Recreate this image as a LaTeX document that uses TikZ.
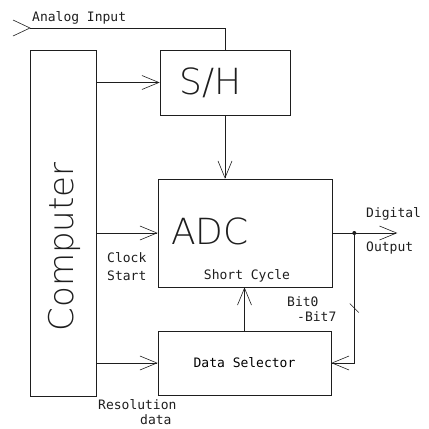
\documentclass[tikz,border=0pt]{standalone}
\usepackage{fontspec}
\setmonofont{DejaVu Sans Mono}
\newfontfamily\thinsans{DejaVu Sans ExtraLight}
\usepackage{tikz}
\usetikzlibrary{arrows.meta}
\definecolor{linecolor}{HTML}{1E1E1E}
\tikzset{
  >={Straight Barb[length=17pt,width=14pt]},
  block/.style={
    draw=linecolor,
    line width=0.6pt,
    inner sep=0pt
  },
  wire/.style={
    draw=linecolor,
    line width=0.6pt
  },
  signal/.style={
    wire,
    ->
  },
  big label/.style={
    font=\thinsans\fontsize{36}{40}\selectfont,
    text=linecolor,
    inner sep=0pt
  },
  small label/.style={
    font=\ttfamily\fontsize{13}{18}\selectfont,
    text=linecolor,
    align=left,
    inner sep=0pt
  }
}

\begin{document}
\begin{tikzpicture}[x=1pt,y=-1pt]
  \useasboundingbox (0,0) rectangle (429,429);

  \node[block,minimum width=66pt,minimum height=346pt] (comp) at (63,223) {};
  \node[block,minimum width=130pt,minimum height=65pt] (sh) at (225,82.5) {};
  \node[block,minimum width=174pt,minimum height=108pt] (adc) at (245,233) {};
  \node[block,minimum width=173pt,minimum height=64pt] (dsel) at (244.5,363)
    {\ttfamily\fontsize{13}{18}\selectfont Data Selector};

  \node[big label,rotate=90,font=\thinsans\fontsize{34}{40}\selectfont] (comp-text) at (64,247) {Computer};
  \node[big label] (sh-text) at (211,83) {S/H};
  \node[big label] (adc-text) at (210,231) {ADC};
  \node[small label] (short-cycle) at (247,276) {Short Cycle};

  % analog input
  \coordinate (ain) at (30,28);
  \draw[wire] (ain) ++(-17,-8) -- (ain) -- ++(-17,8);
  \draw[wire] (ain) -| (sh.north);
  \node[small label,anchor=west] (ain-text) at (32,18) {Analog Input};

  \draw[signal] (sh.west -| comp.east) -- (sh.west);
  \draw[signal] (adc.west -| comp.east) -- (adc.west);
  \draw[signal] (dsel.west -| comp.east) -- (dsel.west);
  \draw[signal] (sh.south) -- (sh.south |- adc.north);
  \draw[signal] (dsel.north) -- (dsel.north |- adc.south);

  % digital output and feedback
  \path (adc.east) ++(22,0) coordinate (tap) ++(43,0) coordinate (dout);
  \draw[signal] (adc.east) -- (dout);
  \fill[linecolor] (tap) circle (2pt);
  \draw[signal] (tap) |- (dsel.east);
  \path (tap) ++(0,75) coordinate (bus);
  \draw[wire] (bus) ++(-4.5,-4.5) -- ++(9,9);

  \node[small label,anchor=west] (clock-text) at (107,267) {Clock\\Start};
  \node[small label,anchor=west] (dig-text) at (366,214) {Digital};
  \node[small label,anchor=west] (out-text) at (366,248) {Output};
  \node[small label,anchor=west] (bit0-text) at (287,302) {Bit0};
  \node[small label,anchor=west] (bit7-text) at (297,317) {-Bit7};
  \node[small label,anchor=west] (res-text) at (98,405) {Resolution};
  \node[small label,anchor=west] (data-text) at (140,420) {data};
\end{tikzpicture}
\end{document}
